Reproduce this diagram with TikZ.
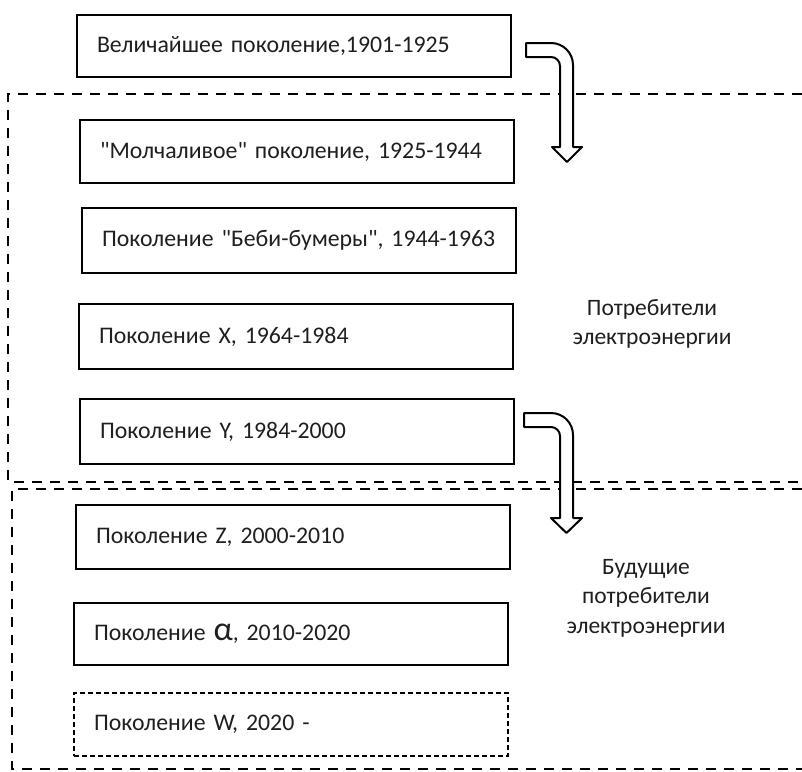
\documentclass[tikz,border=0pt]{standalone}
\usepackage{fontspec}
\setmainfont{Carlito}[Ligatures=TeXOff]
\begin{document}
\begin{tikzpicture}[x=1pt,y=-1pt,
  gen/.style={draw, line width=2pt, rectangle, anchor=north west, inner xsep=20pt, inner ysep=0pt,
    text width=394pt, align=left, text=black!88, font=\fontsize{23.8}{28}\selectfont},
  futuregen/.style={gen, dash pattern=on 5pt off 3pt},
  region/.style={line width=2.2pt, dash pattern=on 10pt off 8pt},
  uturn/.style={draw, fill=white, line width=2pt, line join=round},
  lbl/.style={align=center, text=black!88, font=\fontsize{23.5}{29.5}\selectfont}]
\useasboundingbox (0,0) rectangle (802,771);

% regions
\draw[region] (802,94) -- (8,94) -- (8,482) -- (802,482);
\draw[region] (802,489) -- (12,489) -- (12,769) -- (802,769);

% generations
\node[gen, minimum height=62pt] (b1) at (76,14) {Величайшее поколение,1901-1925};
\node[gen, minimum height=63pt] (b2) at (79,119) {"Молчаливое" поколение, 1925-1944};
\node[gen, minimum height=65pt] (b3) at (81,207) {Поколение "Беби-бумеры", 1944-1963};
\node[gen, minimum height=65pt] (b4) at (78,303) {Поколение X, 1964-1984};
\node[gen, minimum height=65pt] (b5) at (79,398) {Поколение Y, 1984-2000};
\node[gen, minimum height=64pt] (b6) at (75,504) {Поколение Z, 2000-2010};
\node[gen, minimum height=62pt] (b7) at (73,602) {Поколение {\fontsize{34}{34}\selectfont α}, 2010-2020};
\node[futuregen, minimum height=63pt] (b8) at (73,692) {Поколение W, 2020 -};

% labels
\node[lbl] (l1) at (652,324) {Потребители\\электроэнергии};
\node[lbl] (l2) at (646,598) {Будущие\\потребители\\электроэнергии};

% u-turn arrows
\draw[uturn] (526,43) -- (551,43) arc[start angle=90, end angle=0, radius=22pt]
  -- (573,147) -- (582,147) -- (567,162) -- (552,147) -- (560,147) -- (560,66)
  arc[start angle=0, end angle=90, radius=9pt] -- (526,57) -- cycle;
\draw[uturn] (524,413) -- (551,413) arc[start angle=90, end angle=0, radius=22pt]
  -- (573,518) -- (582,518) -- (566.5,533) -- (551,518) -- (560,518) -- (560,436)
  arc[start angle=0, end angle=90, radius=9pt] -- (524,427) -- cycle;
\end{tikzpicture}
\end{document}
